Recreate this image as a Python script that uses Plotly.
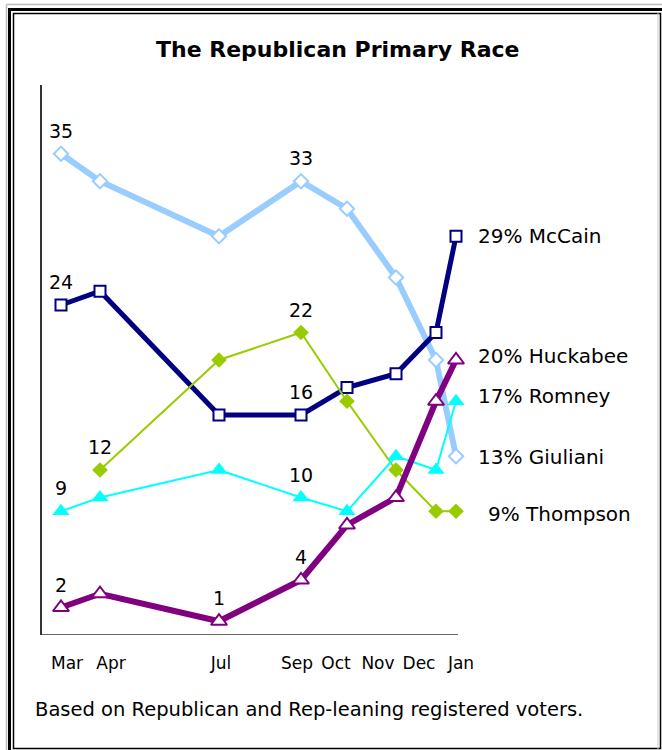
import plotly.graph_objects as go

# Survey waves, expressed as months elapsed since March 2007
survey_month = [0.0, 0.975, 3.95, 6.0, 7.15, 8.375, 9.375, 9.875]

giuliani = [35, 33, 29, 33, 31, 26, 20, 13]
mccain = [24, 25, 16, 16, 18, 19, 22, 29]
thompson = [None, 12, 20, 22, 17, 12, 9, 9]
romney = [9, 10, 12, 10, 9, 13, 12, 17]
huckabee = [2, 3, 1, 4, 8, 10, 17, 20]

tick_months = [0.15, 1.25, 4.0, 5.9, 6.875, 7.925, 8.95, 10.0]
tick_labels = ["Mar", "Apr", "Jul", "Sep", "Oct", "Nov", "Dec", "Jan"]

FONT = "DejaVu Sans"
W, H = 662, 750
ML, MR, MT, MB = 42, 162, 85, 115
PX_PER_MONTH = 40.0
X0_PX = 61  # pixel column of the first survey wave
x_min = (ML - X0_PX) / PX_PER_MONTH
x_max = (W - MR - X0_PX) / PX_PER_MONTH
axis_end = (458 - X0_PX) / PX_PER_MONTH

series = [
    ("Giuliani", giuliani, "#99CCFF", 6, "diamond", 11, "white", 2),
    ("McCain", mccain, "#000080", 5, "square", 11, "white", 2),
    ("Thompson", thompson, "#99CC00", 2, "diamond", 12, "#99CC00", 0),
    ("Romney", romney, "#00FFFF", 2, "triangle-up", 15, "#00FFFF", 0),
    ("Huckabee", huckabee, "#800080", 6, "triangle-up", 14, "white", 2),
]

fig = go.Figure()
for name, vals, color, lw, sym, msize, fill, mlw in series:
    fig.add_trace(go.Scatter(
        x=survey_month, y=vals, mode="lines+markers", name=name,
        line=dict(color=color, width=lw),
        marker=dict(symbol=sym, size=msize, color=fill,
                    line=dict(color=color, width=mlw)),
        cliponaxis=False, showlegend=False,
    ))

# Value labels above selected points
point_labels = [
    (giuliani, 0), (giuliani, 3), (mccain, 0), (mccain, 3),
    (thompson, 1), (thompson, 3), (romney, 0), (romney, 3),
    (huckabee, 0), (huckabee, 2), (huckabee, 3),
]
annotations = []
for vals, i in point_labels:
    annotations.append(dict(
        x=survey_month[i], y=vals[i], text=str(vals[i]), showarrow=False,
        yshift=23, font=dict(family=FONT, size=19, color="black"),
    ))

# End-of-line labels
end_labels = [
    ("McCain", mccain), ("Huckabee", huckabee), ("Romney", romney),
    ("Giuliani", giuliani), ("Thompson", thompson),
]
end_offsets = {"McCain": 0, "Huckabee": 4, "Romney": 5, "Giuliani": -1, "Thompson": -3}
for name, vals in end_labels:
    v = vals[-1]
    txt = f"{v}% {name}" if v >= 10 else f"\u2002{v}% {name}"
    annotations.append(dict(
        x=survey_month[-1], y=v, text=txt, showarrow=False, xanchor="left",
        xshift=20, yshift=end_offsets[name],
        font=dict(family=FONT, size=20, color="black"),
    ))


def px_x(p):
    return (p - ML) / (W - ML - MR)


def px_y(p):
    return (H - MB - p) / (H - MT - MB)


annotations.append(dict(
    x=px_x(337), y=px_y(49), xref="paper", yref="paper",
    xanchor="center", yanchor="middle", showarrow=False,
    text="<b>The Republican Primary Race</b>",
    font=dict(family=FONT, size=22, color="black"),
))
annotations.append(dict(
    x=px_x(33), y=px_y(709), xref="paper", yref="paper",
    xanchor="left", yanchor="middle", showarrow=False,
    text="Based on Republican and Rep-leaning registered voters.",
    font=dict(family=FONT, size=19.5, color="black"),
))

shapes = [
    # bottom axis line
    dict(type="line", xref="x", yref="y", x0=x_min, x1=axis_end, y0=0, y1=0,
         line=dict(color="#333333", width=1.5)),
    # grey shadow frame
    dict(type="line", xref="paper", yref="paper", x0=px_x(6.5), x1=px_x(6.5),
         y0=px_y(4.5), y1=px_y(750), line=dict(color="#BBBBBB", width=1.5)),
    dict(type="line", xref="paper", yref="paper", x0=px_x(6.5), x1=px_x(662),
         y0=px_y(4.5), y1=px_y(4.5), line=dict(color="#BBBBBB", width=1.5)),
    # thick outer frame
    dict(type="line", xref="paper", yref="paper", x0=px_x(9.5), x1=px_x(9.5),
         y0=px_y(8), y1=px_y(750), line=dict(color="black", width=3)),
    dict(type="line", xref="paper", yref="paper", x0=px_x(8), x1=px_x(662),
         y0=px_y(9.5), y1=px_y(9.5), line=dict(color="black", width=3)),
    # thin inner frame
    dict(type="rect", xref="paper", yref="paper", x0=px_x(13.5), x1=px_x(660.5),
         y0=px_y(748.5), y1=px_y(13.5), line=dict(color="black", width=1.5)),
    dict(type="line", xref="paper", yref="paper", x0=px_x(658), x1=px_x(658),
         y0=px_y(13), y1=px_y(750), line=dict(color="#CCCCCC", width=1)),
]

fig.update_layout(
    width=W, height=H,
    margin=dict(l=ML, r=MR, t=MT, b=MB),
    paper_bgcolor="white", plot_bgcolor="white",
    font=dict(family=FONT, color="black"),
    annotations=annotations, shapes=shapes,
    xaxis=dict(range=[x_min, x_max], tickvals=tick_months, ticktext=tick_labels,
               showgrid=False, zeroline=False, showline=False, ticks="",
               tickfont=dict(family=FONT, size=17, color="black"), ticklabelstandoff=16),
    yaxis=dict(range=[0, 40], showgrid=False, zeroline=False, showline=True,
               linecolor="#333333", linewidth=1.5, showticklabels=False, ticks=""),
)

fig.write_html("out.html")
